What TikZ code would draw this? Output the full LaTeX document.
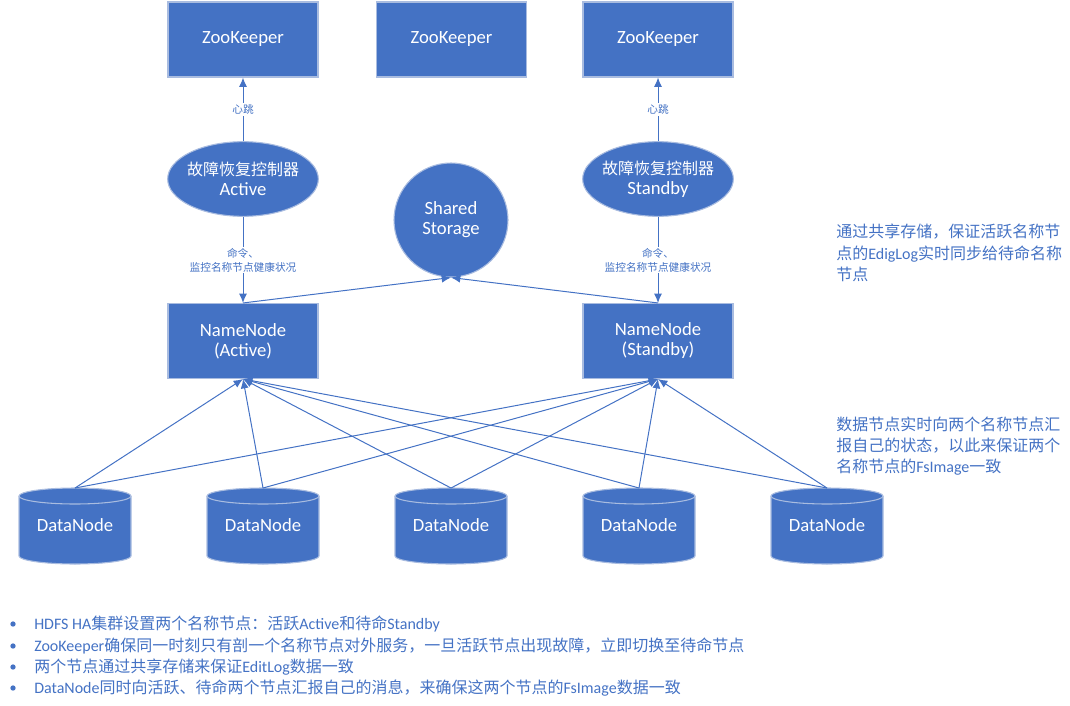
\documentclass[tikz,border=0pt]{standalone}
\usepackage{fontspec}
\setmainfont{Carlito}
\newfontfamily\cjk{Noto Sans CJK SC}
\usetikzlibrary{shapes.geometric,arrows.meta}
\definecolor{boxblue}{HTML}{4472C4}
\definecolor{edgeblue}{HTML}{A9BCE0}
\definecolor{txtblue}{HTML}{4472C4}
\newcommand\cjkn[1]{{\cjk\fontsize{12}{15}\selectfont #1}}
\newcommand\cjkt[1]{{\cjk #1}}
\begin{document}
\begin{tikzpicture}[x=0.75pt,y=-0.75pt,
  box/.style={draw=edgeblue, line width=0.8pt, fill=boxblue, text=white,
    minimum width=112.5pt, minimum height=56.25pt, inner sep=0pt,
    align=center, font=\fontsize{14}{15}\selectfont},
  oval/.style={ellipse, draw=edgeblue, line width=0.8pt, fill=boxblue, text=white,
    minimum width=113pt, minimum height=56pt, inner xsep=-2.5pt, inner ysep=0pt,
    align=center, font=\fontsize{14}{15}\selectfont},
  ssc/.style={circle, draw=edgeblue, line width=0.8pt, fill=boxblue, text=white,
    minimum size=85.5pt, inner sep=0pt, align=center,
    font=\fontsize{14}{15}\selectfont},
  arr/.style={draw=boxblue, line width=0.75pt, -{Latex[length=7pt,width=6pt]}},
  lbl/.style={fill=white, text=txtblue, inner sep=1pt, align=center,
    font=\cjk\fontsize{8}{10.5}\selectfont},
  note/.style={text=txtblue, anchor=west, inner sep=0pt, align=left,
    font=\fontsize{12}{16}\selectfont},
  dntext/.style={text=white, inner sep=0pt, font=\fontsize{14}{15}\selectfont},
  dot/.style={circle, fill=boxblue, inner sep=0pt, minimum size=4pt}
]
\useasboundingbox (0,0) rectangle (1070,706);

% ZooKeepers
\node[box] (zk1) at (243,39.5) {ZooKeeper};
\node[box] (zk2) at (451.5,39.5) {ZooKeeper};
\node[box] (zk3) at (658,39.5) {ZooKeeper};

% failover controllers
\node[oval] (fa) at (243,179) {\cjkn{故障恢复控制器}\\Active};
\node[oval] (fs) at (658,179) {\cjkn{故障恢复控制器}\\Standby};

% shared storage
\node[ssc] (ss) at (451,220) {Shared\\Storage};

% name nodes
\node[box] (nn1) at (243,341) {NameNode\\(Active)};
\node[box] (nn2) at (658,341) {NameNode\\(Standby)};

% data nodes
\foreach \i/\c in {1/75,2/263,3/451,4/639,5/827}{
  \fill[boxblue] (\c-56,496) -- (\c-56,556) arc(180:0:56 and 8) -- (\c+56,496) arc(0:-180:56 and 8) -- cycle;
  \draw[edgeblue, line width=0.8pt] (\c-56,496) -- (\c-56,556) arc(180:0:56 and 8) -- (\c+56,496);
  \draw[edgeblue, line width=0.8pt] (\c,496) ellipse (56 and 8);
  \node[dntext] (dn\i) at (\c,525) {DataNode};
  \coordinate (dt\i) at (\c,488);
}

% connectors
\draw[arr] (fa.north) -- (zk1.south) node[lbl, midway] {心跳};
\draw[arr] (fs.north) -- (zk3.south) node[lbl, midway] {心跳};
\draw[arr] (fa.south) -- (nn1.north) node[lbl, midway] {命令、\\监控名称节点健康状况};
\draw[arr] (fs.south) -- (nn2.north) node[lbl, midway] {命令、\\监控名称节点健康状况};
\draw[arr] (nn1.north) -- (ss.south);
\draw[arr] (nn2.north) -- (ss.south);
\foreach \i in {1,...,5}{
  \draw[arr] (dt\i) -- (nn1.south);
  \draw[arr] (dt\i) -- (nn2.south);
}

% notes
\node[note] (n1) at (836,253) {\cjkt{通过共享存储，保证活跃名称节}\\\cjkt{点的}EdigLog\cjkt{实时同步给待命名称}\\\cjkt{节点}};
\node[note] (n2) at (836,446) {\cjkt{数据节点实时向两个名称节点汇}\\\cjkt{报自己的状态，以此来保证两个}\\\cjkt{名称节点的}FsImage\cjkt{一致}};

% bullets
\node[dot] (d1) at (13,624) {};
\node[dot] (d2) at (13,646) {};
\node[dot] (d3) at (13,667) {};
\node[dot] (d4) at (13,688) {};
\node[note] (b1) at (34,624) {HDFS HA\cjkt{集群设置两个名称节点：活跃}Active\cjkt{和待命}Standby};
\node[note] (b2) at (34,646) {ZooKeeper\cjkt{确保同一时刻只有剖一个名称节点对外服务，一旦活跃节点出现故障，立即切换至待命节点}};
\node[note] (b3) at (34,667) {\cjkt{两个节点通过共享存储来保证}EditLog\cjkt{数据一致}};
\node[note] (b4) at (34,688) {DataNode\cjkt{同时向活跃、待命两个节点汇报自己的消息，来确保这两个节点的}FsImage\cjkt{数据一致}};
\end{tikzpicture}
\end{document}
